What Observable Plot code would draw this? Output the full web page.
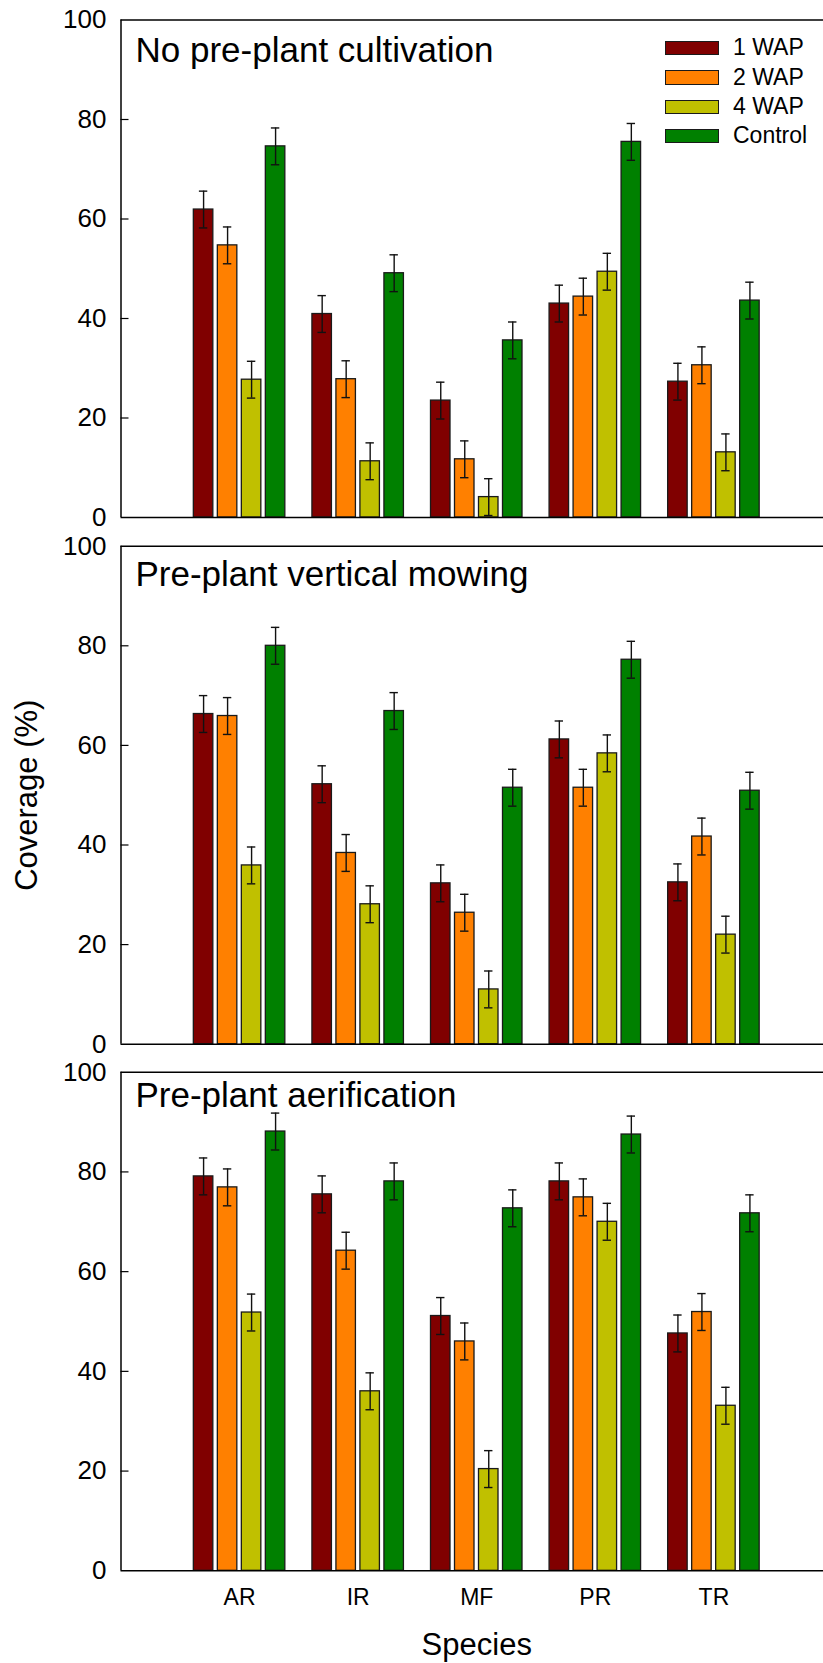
<!DOCTYPE html>
<html>
<head>
<meta charset="utf-8">
<script src="https://cdn.jsdelivr.net/npm/d3@7"></script>
<script src="https://cdn.jsdelivr.net/npm/@observablehq/plot@0.6"></script>
<style>
  html, body { margin: 0; padding: 0; background: #fff; overflow: hidden; }
  #wrap { position: relative; width: 823px; height: 1663px; overflow: hidden; background: #fff;
          font-family: "Liberation Sans", Arial, sans-serif; color: #000; }
  .panel { position: absolute; left: 0; }
  #legend { position: absolute; left: 665px; top: 33.3px; }
  .row { display: flex; align-items: center; height: 29.4px; }
  .sw { width: 54px; height: 14.5px; box-sizing: border-box; border: 1.5px solid #1a1a1a; }
  .lab { margin-left: 14px; font-size: 23px; line-height: 29.4px; white-space: nowrap; }
</style>
</head>
<body>
<div id="wrap"></div>
<script>
// ---- data ----
const species = ["AR", "IR", "MF", "PR", "TR"];
const series = ["1 WAP", "2 WAP", "4 WAP", "Control"];
const seriesColors = ["#800000", "#FF8000", "#C0C000", "#008000"];
const panelTitles = ["No pre-plant cultivation", "Pre-plant vertical mowing", "Pre-plant aerification"];
const yTicks = [0, 20, 40, 60, 80, 100];
const xLabel = "Species";
const yLabel = "Coverage (%)";

// rows = species, columns = series (1 WAP, 2 WAP, 4 WAP, Control)
const noCultivation = [
  [61.9, 54.7, 27.7, 74.6],
  [40.9, 27.8, 11.3, 49.1],
  [23.5, 11.7,  4.1, 35.6],
  [43.0, 44.4, 49.4, 75.5],
  [27.3, 30.6, 13.1, 43.6]
];
const noCultivationSE = [
  [3.7, 3.7, 3.7, 3.7],
  [3.7, 3.7, 3.7, 3.7],
  [3.7, 3.7, 3.7, 3.7],
  [3.7, 3.7, 3.7, 3.7],
  [3.7, 3.7, 3.7, 3.7]
];
const verticalMowing = [
  [66.3, 65.9, 35.9, 80.0],
  [52.2, 38.4, 28.1, 66.9],
  [32.3, 26.4, 11.0, 51.5],
  [61.2, 51.5, 58.4, 77.2],
  [32.5, 41.7, 22.0, 50.9]
];
const verticalMowingSE = [
  [3.7, 3.7, 3.7, 3.7],
  [3.7, 3.7, 3.7, 3.7],
  [3.7, 3.7, 3.7, 3.7],
  [3.7, 3.7, 3.7, 3.7],
  [3.7, 3.7, 3.7, 3.7]
];
const aerification = [
  [79.1, 76.9, 51.8, 88.1],
  [75.5, 64.2, 36.0, 78.1],
  [51.1, 46.0, 20.4, 72.7],
  [78.1, 74.9, 70.0, 87.5],
  [47.6, 51.9, 33.1, 71.7]
];
const aerificationSE = [
  [3.7, 3.7, 3.7, 3.7],
  [3.7, 3.7, 3.7, 3.7],
  [3.7, 3.7, 3.7, 3.7],
  [3.7, 3.7, 3.7, 3.7],
  [3.7, 3.7, 3.7, 3.7]
];

// ---- layout ----
const W = 832, ML = 120.5, MR = 0;
const frameW = W - ML - MR;
const unitPx = frameW / 6;
const barStep = 24 / unitPx, barHalf = 9.75 / unitPx;
const font = "Liberation Sans, Arial, sans-serif";

function toRows(values, errs) {
  const out = [];
  values.forEach((row, i) => row.forEach((v, j) => out.push({
    species: species[i], si: i, series: series[j], sj: j, value: v, se: errs[i][j]
  })));
  return out;
}
const cx = d => d.si + 1 + (d.sj - 1.5) * barStep;

function makePanel(idx, values, errs, cfg) {
  const data = toRows(values, errs);
  const marks = [
    Plot.rect(data, {x1: d => cx(d) - barHalf, x2: d => cx(d) + barHalf, y1: 0, y2: "value",
                     fill: "series", stroke: "#1a1a1a", strokeWidth: 1.3}),
    Plot.ruleX(data, {x: cx, y1: d => d.value - d.se, y2: d => d.value + d.se, stroke: "#111", strokeWidth: 1.4}),
    Plot.ruleY(data, {x1: cx, x2: cx, y: d => d.value + d.se, insetLeft: -4.2, insetRight: -4.2, stroke: "#111", strokeWidth: 1.4}),
    Plot.ruleY(data, {x1: cx, x2: cx, y: d => d.value - d.se, insetLeft: -4.2, insetRight: -4.2, stroke: "#111", strokeWidth: 1.4}),
    Plot.tickY(yTicks.slice(1, -1), {y: d => d, insetRight: frameW - 8, stroke: "#000", strokeWidth: 1.2}),
    Plot.ruleY([0, 100], {stroke: "#000", strokeWidth: 1.6}),
    Plot.ruleX([0], {stroke: "#000", strokeWidth: 1.5}),
    Plot.axisY({ticks: yTicks, tickSize: 0, tickPadding: 14.5, fontSize: 26, label: null, anchor: "left"}),
    Plot.text([panelTitles[idx]], {frameAnchor: "top-left", dx: 14.5, dy: cfg.titleDy, lineAnchor: "bottom",
                                   textAnchor: "start", fontSize: 35})
  ];
  if (cfg.yLabel) {
    marks.push(Plot.text([yLabel], {frameAnchor: "left", rotate: -90, dx: -94, lineAnchor: "middle",
                                    textAnchor: "middle", fontSize: 31}));
  }
  if (cfg.xAxis) {
    marks.push(Plot.text(species, {x: (d, i) => i + 1, frameAnchor: "bottom", dy: 33.7, lineAnchor: "bottom",
                                   textAnchor: "middle", fontSize: 23}));
    marks.push(Plot.text([xLabel], {frameAnchor: "bottom", dy: 83.7, lineAnchor: "bottom",
                                    textAnchor: "middle", fontSize: 31}));
  }
  const svg = Plot.plot({
    width: W,
    height: cfg.mt + cfg.fh + cfg.mb,
    marginLeft: ML, marginRight: MR, marginTop: cfg.mt, marginBottom: cfg.mb,
    style: {fontFamily: font, fontSize: "26px", color: "#000", background: "transparent",
            maxWidth: "none", overflow: "visible"},
    x: {domain: [0, 6], axis: null},
    y: {domain: [0, 100]},
    color: {domain: series, range: seriesColors},
    marks
  });
  svg.classList.add("panel");
  svg.style.top = cfg.top + "px";
  svg.style.position = "absolute";
  svg.style.left = "0px";
  return svg;
}

const wrap = document.getElementById("wrap");
wrap.appendChild(makePanel(0, noCultivation, noCultivationSE, {top: 0, mt: 19.5, fh: 497.5, mb: 9, titleDy: 41.5}));
wrap.appendChild(makePanel(1, verticalMowing, verticalMowingSE, {top: 526, mt: 19.7, fh: 498, mb: 8.3, titleDy: 39.5, yLabel: true}));
wrap.appendChild(makePanel(2, aerification, aerificationSE, {top: 1052, mt: 19.7, fh: 498.6, mb: 92.7, titleDy: 34.5, xAxis: true}));

// legend
const legend = document.createElement("div");
legend.id = "legend";
series.forEach((s, i) => {
  const row = document.createElement("div");
  row.className = "row";
  const sw = document.createElement("div");
  sw.className = "sw";
  sw.style.background = seriesColors[i];
  const lab = document.createElement("span");
  lab.className = "lab";
  lab.textContent = s;
  row.appendChild(sw);
  row.appendChild(lab);
  legend.appendChild(row);
});
wrap.appendChild(legend);
</script>
</body>
</html>
